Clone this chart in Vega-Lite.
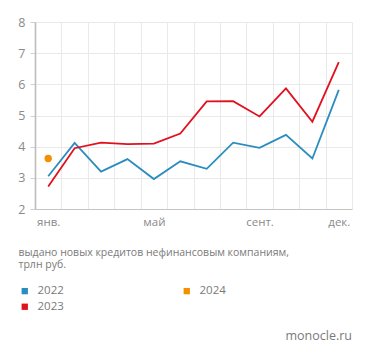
{
  "$schema": "https://vega.github.io/schema/vega-lite/v6.json",
  "autosize": "none",
  "width": 317,
  "height": 187,
  "padding": {"left": 35, "top": 22, "right": 19, "bottom": 146},
  "background": "white",
  "config": {
    "font": "Open Sans",
    "view": {"stroke": null},
    "title": {"font": "Open Sans", "fontWeight": "normal", "color": "#7a7a7a", "fontSize": 12.5}
  },
  "title": {"text": "monocle.ru", "orient": "bottom", "anchor": "end", "offset": 17},
  "data": {
    "values": [
      {"month": "янв.", "year": "2022", "value": 3.05},
      {"month": "февр.", "year": "2022", "value": 4.12},
      {"month": "март", "year": "2022", "value": 3.2},
      {"month": "апр.", "year": "2022", "value": 3.6},
      {"month": "май", "year": "2022", "value": 2.96},
      {"month": "июнь", "year": "2022", "value": 3.53},
      {"month": "июль", "year": "2022", "value": 3.29},
      {"month": "авг.", "year": "2022", "value": 4.13},
      {"month": "сент.", "year": "2022", "value": 3.96},
      {"month": "окт.", "year": "2022", "value": 4.38},
      {"month": "нояб.", "year": "2022", "value": 3.62},
      {"month": "дек.", "year": "2022", "value": 5.82},
      {"month": "янв.", "year": "2023", "value": 2.72},
      {"month": "февр.", "year": "2023", "value": 3.95},
      {"month": "март", "year": "2023", "value": 4.13},
      {"month": "апр.", "year": "2023", "value": 4.08},
      {"month": "май", "year": "2023", "value": 4.1},
      {"month": "июнь", "year": "2023", "value": 4.42},
      {"month": "июль", "year": "2023", "value": 5.45},
      {"month": "авг.", "year": "2023", "value": 5.46},
      {"month": "сент.", "year": "2023", "value": 4.97},
      {"month": "окт.", "year": "2023", "value": 5.87},
      {"month": "нояб.", "year": "2023", "value": 4.8},
      {"month": "дек.", "year": "2023", "value": 6.71},
      {"month": "янв.", "year": "2024", "value": 3.62}
    ]
  },
  "encoding": {
    "x": {
      "field": "month",
      "type": "ordinal",
      "sort": ["янв.", "февр.", "март", "апр.", "май", "июнь", "июль", "авг.", "сент.", "окт.", "нояб.", "дек."],
      "scale": {"type": "band", "paddingInner": 0, "paddingOuter": 0},
      "axis": {
        "title": ["выдано новых кредитов нефинансовым компаниям,", "трлн руб."],
        "titleX": -17,
        "titleY": 38,
        "titleAlign": "left",
        "titleBaseline": "top",
        "titleAngle": 0,
        "titleFontSize": 10.5,
        "titleFontWeight": "normal",
        "titleColor": "#7a7a7a",
        "titleLineHeight": 12.5,
        "labelAngle": 0,
        "labelExpr": "indexof(['янв.','май','сент.','дек.'], datum.value) >= 0 ? datum.value : ''",
        "labelFontSize": 11.5,
        "labelColor": "#8a8a8a",
        "labelPadding": 7,
        "ticks": false,
        "tickBand": "extent",
        "grid": true,
        "gridColor": "#e9e9e9",
        "gridWidth": 1,
        "domainColor": "#c4c4c4",
        "domainWidth": 1.2
      }
    },
    "y": {
      "field": "value",
      "type": "quantitative",
      "scale": {"domain": [2, 8], "nice": false, "zero": false},
      "axis": {
        "title": null,
        "values": [2, 3, 4, 5, 6, 7, 8],
        "labelFontSize": 12.5,
        "labelColor": "#8a8a8a",
        "labelPadding": 5,
        "tickSize": 5,
        "tickColor": "#d0d0d0",
        "grid": true,
        "gridColor": "#e9e9e9",
        "domainColor": "#bdbdbd",
        "domainWidth": 1.6
      }
    },
    "color": {
      "field": "year",
      "type": "nominal",
      "scale": {"domain": ["2022", "2023", "2024"], "range": ["#2b8cbf", "#e2101e", "#f29100"]},
      "legend": {
        "title": null,
        "orient": "none",
        "direction": "vertical",
        "legendX": -16,
        "legendY": 263,
        "columns": 2,
        "columnPadding": 117,
        "rowPadding": 3,
        "symbolType": "square",
        "symbolSize": 40,
        "symbolStrokeWidth": 0,
        "labelFontSize": 11.5,
        "labelColor": "#7a7a7a",
        "labelOffset": 7
      }
    }
  },
  "layer": [
    {
      "transform": [{"filter": "datum.year != '2024'"}],
      "mark": {"type": "line", "strokeWidth": 1.8}
    },
    {
      "transform": [{"filter": "datum.year == '2024'"}],
      "mark": {"type": "circle", "size": 55, "opacity": 1}
    }
  ]
}
